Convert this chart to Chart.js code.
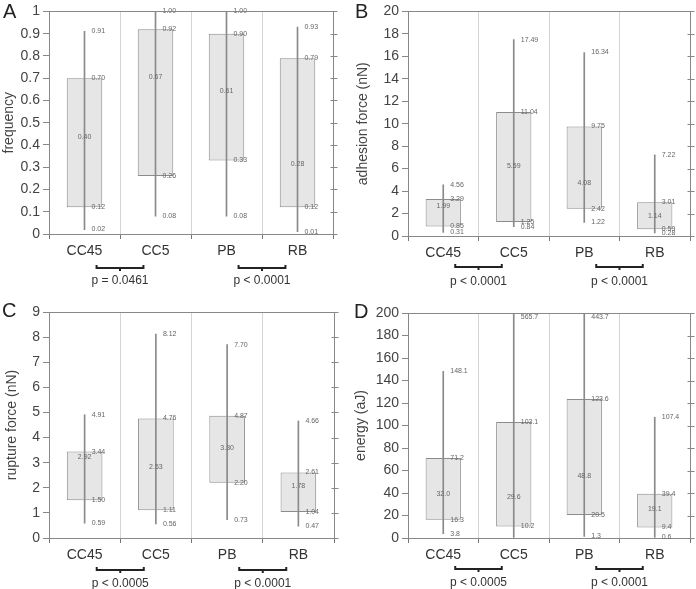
<!DOCTYPE html>
<html>
<head>
<meta charset="utf-8">
<script src="https://cdn.jsdelivr.net/npm/chart.js@4.4.1/dist/chart.umd.min.js"></script>
<style>
  body { margin: 0; background: #fff; }
  #wrap { position: relative; width: 696px; height: 589px; overflow: hidden; }
  canvas { position: absolute; }
</style>
</head>
<body>
<div id="wrap">
  <canvas id="chartA" width="348" height="290" style="left:0;top:0"></canvas>
  <canvas id="chartB" width="348" height="290" style="left:348px;top:0"></canvas>
  <canvas id="chartC" width="348" height="299" style="left:0;top:290px"></canvas>
  <canvas id="chartD" width="348" height="299" style="left:348px;top:290px"></canvas>
</div>
<script>
var categories = ['CC45', 'CC5', 'PB', 'RB'];
var pairs = [[0, 1], [2, 3]];

// A - frequency
var freqMin    = [0.02, 0.08, 0.08, 0.01];
var freqQ1     = [0.12, 0.26, 0.33, 0.12];
var freqMedian = [0.40, 0.67, 0.61, 0.28];
var freqQ3     = [0.70, 0.92, 0.90, 0.79];
var freqMax    = [0.91, 1.00, 1.00, 0.93];
var freqTicks  = [0, 0.1, 0.2, 0.3, 0.4, 0.5, 0.6, 0.7, 0.8, 0.9, 1];
var freqP      = ['p = 0.0461', 'p < 0.0001'];

// B - adhesion force
var adhMin    = [0.31, 0.84, 1.22, 0.28];
var adhQ1     = [0.85, 1.25, 2.42, 0.59];
var adhMedian = [1.99, 5.59, 4.08, 1.14];
var adhQ3     = [3.29, 11.04, 9.75, 3.01];
var adhMax    = [4.56, 17.49, 16.34, 7.22];
var adhTicks  = [0, 2, 4, 6, 8, 10, 12, 14, 16, 18, 20];
var adhP      = ['p < 0.0001', 'p < 0.0001'];

// C - rupture force
var rupMin    = [0.59, 0.56, 0.73, 0.47];
var rupQ1     = [1.50, 1.11, 2.20, 1.04];
var rupMedian = [2.92, 2.53, 3.30, 1.78];
var rupQ3     = [3.44, 4.76, 4.87, 2.61];
var rupMax    = [4.91, 8.12, 7.70, 4.66];
var rupTicks  = [0, 1, 2, 3, 4, 5, 6, 7, 8, 9];
var rupP      = ['p < 0.0005', 'p < 0.0001'];

// D - energy (CC5 minimum not readable)
var enMin    = [3.8, null, 1.3, 0.6];
var enQ1     = [16.3, 10.2, 20.5, 9.4];
var enMedian = [32.0, 29.6, 48.8, 19.1];
var enQ3     = [71.2, 103.1, 123.6, 39.4];
var enMax    = [148.1, 565.7, 443.7, 107.4];
var enTicks  = [0, 20, 40, 60, 80, 100, 120, 140, 160, 180, 200];
var enP      = ['p < 0.0005', 'p < 0.0001'];

Chart.defaults.font.family = "'Liberation Sans', Arial, sans-serif";

function makePanel(id, p, lay) {
  var ctx = document.getElementById(id).getContext('2d');
  var ticks = p.ticks;
  var lo = ticks[0], hi = ticks[ticks.length - 1];
  var H = ctx.canvas.height;

  var whiskers = categories.map(function (c, i) {
    return [p.min[i] === null ? lo : p.min[i], p.max[i]];
  });
  var boxes = categories.map(function (c, i) { return [p.q1[i], p.q3[i]]; });

  var extras = {
    id: 'extras',
    afterDatasetsDraw: function (chart) {
      var c = chart.ctx, xs = chart.scales.x, ys = chart.scales.y, area = chart.chartArea;
      c.save();
      // value labels
      c.font = "7px 'Liberation Sans', Arial, sans-serif";
      c.fillStyle = '#666';
      c.textBaseline = 'middle';
      categories.forEach(function (cat, i) {
        var x = xs.getPixelForValue(i);
        [p.min, p.q1, p.q3, p.max].forEach(function (arr) {
          var v = arr[i];
          if (v === null) return;
          var y = v > hi ? area.top + 4 : ys.getPixelForValue(v);
          c.textAlign = 'left';
          c.fillText(v.toFixed(p.decimals), x + 7, y);
        });
        c.textAlign = 'center';
        c.fillText(p.median[i].toFixed(p.decimals), x, ys.getPixelForValue(p.median[i]) - 7.5);
      });
      c.restore();
    },
    afterDraw: function (chart) {
      var c = chart.ctx, xs = chart.scales.x, ys = chart.scales.y, area = chart.chartArea;
      c.save();
      // top and right frame with crossing ticks
      c.strokeStyle = '#888';
      c.lineWidth = 1;
      var t = Math.round(area.top) + 0.5, r = Math.round(area.right) + 0.5;
      c.beginPath();
      c.moveTo(area.left, t); c.lineTo(r + 3, t);
      c.moveTo(r, area.top); c.lineTo(r, area.bottom);
      ys.ticks.forEach(function (tk) {
        var y = Math.round(ys.getPixelForValue(tk.value)) + 0.5;
        c.moveTo(r - 3, y); c.lineTo(r + 4, y);
      });
      c.stroke();

      // brackets and p-values
      var catW = xs.getPixelForValue(1) - xs.getPixelForValue(0);
      pairs.forEach(function (pr, k) {
        var mid = (xs.getPixelForValue(pr[0]) + xs.getPixelForValue(pr[1])) / 2;
        var half = catW * 0.33;
        var y = Math.round(area.bottom + lay.brY);
        c.strokeStyle = '#222';
        c.lineWidth = 2;
        c.beginPath();
        c.moveTo(mid - half, y - 3); c.lineTo(mid - half, y); c.lineTo(mid + half, y); c.lineTo(mid + half, y - 3);
        c.moveTo(mid, y); c.lineTo(mid, y + 3);
        c.stroke();
        c.font = "12px 'Liberation Sans', Arial, sans-serif";
        c.fillStyle = '#333';
        c.textAlign = 'center';
        c.textBaseline = 'middle';
        c.fillText(p.pvalues[k], mid, area.bottom + lay.pY);
      });

      // panel letter
      c.font = "20px 'Liberation Sans', Arial, sans-serif";
      c.fillStyle = '#222';
      c.textAlign = 'left';
      c.textBaseline = 'middle';
      c.fillText(lay.letter, lay.letterX, lay.letterY);
      c.restore();
    }
  };

  return new Chart(ctx, {
    type: 'bar',
    data: {
      labels: categories,
      datasets: [{
        label: 'range',
        data: whiskers,
        backgroundColor: '#8a8a8a',
        borderWidth: 0,
        barThickness: 1,
        grouped: false,
        clip: 0,
        order: 0
      }, {
        label: 'quartiles',
        data: boxes,
        backgroundColor: '#e6e6e6',
        borderColor: '#8c8c8c',
        borderWidth: 1,
        borderSkipped: false,
        barPercentage: 0.5,
        categoryPercentage: 1,
        grouped: false,
        clip: 0,
        order: 1
      }]
    },
    options: {
      responsive: false,
      animation: false,
      devicePixelRatio: 1,
      layout: { padding: { top: lay.top, right: lay.right, left: 0, bottom: 0 } },
      plugins: { legend: { display: false }, tooltip: { enabled: false } },
      scales: {
        x: {
          afterFit: function (s) { s.height = H - lay.bottom; },
          border: { color: '#888' },
          grid: { color: '#d4d4d4', tickColor: '#777', tickLength: 5, offset: true },
          ticks: { color: '#333', font: { size: 14 }, padding: 4 }
        },
        y: {
          min: lo,
          max: hi,
          afterBuildTicks: function (s) { s.ticks = ticks.map(function (v) { return { value: v }; }); },
          afterFit: function (s) { s.width = lay.left; },
          border: { color: '#888' },
          grid: { drawOnChartArea: false, color: '#888', tickLength: 6 },
          ticks: { color: '#444', font: { size: 14 }, padding: 3, callback: function (v) { return String(v); } },
          title: { display: true, text: p.title, color: '#444', font: { size: 14 }, padding: { top: lay.titlePad, bottom: 0 } }
        }
      }
    },
    plugins: [extras]
  });
}

makePanel('chartA', {
  title: 'frequency', min: freqMin, q1: freqQ1, median: freqMedian, q3: freqQ3, max: freqMax,
  ticks: freqTicks, pvalues: freqP, decimals: 2
}, { letter: 'A', letterX: 3, letterY: 12, left: 49, right: 15, top: 8, bottom: 234, titlePad: 1, brY: 33.5, pY: 47 });

makePanel('chartB', {
  title: 'adhesion force (nN)', min: adhMin, q1: adhQ1, median: adhMedian, q3: adhQ3, max: adhMax,
  ticks: adhTicks, pvalues: adhP, decimals: 2
}, { letter: 'B', letterX: 7, letterY: 12, left: 60, right: 6, top: 10, bottom: 236, titlePad: 7, brY: 31, pY: 46 });

makePanel('chartC', {
  title: 'rupture force (nN)', min: rupMin, q1: rupQ1, median: rupMedian, q3: rupQ3, max: rupMax,
  ticks: rupTicks, pvalues: rupP, decimals: 2
}, { letter: 'C', letterX: 2, letterY: 21, left: 49, right: 14, top: 22, bottom: 248, titlePad: 4, brY: 31.5, pY: 45.5 });

makePanel('chartD', {
  title: 'energy (aJ)', min: enMin, q1: enQ1, median: enMedian, q3: enQ3, max: enMax,
  ticks: enTicks, pvalues: enP, decimals: 1
}, { letter: 'D', letterX: 6, letterY: 22, left: 60, right: 6, top: 23, bottom: 248, titlePad: 5, brY: 31, pY: 44.5 });
</script>
</body>
</html>
